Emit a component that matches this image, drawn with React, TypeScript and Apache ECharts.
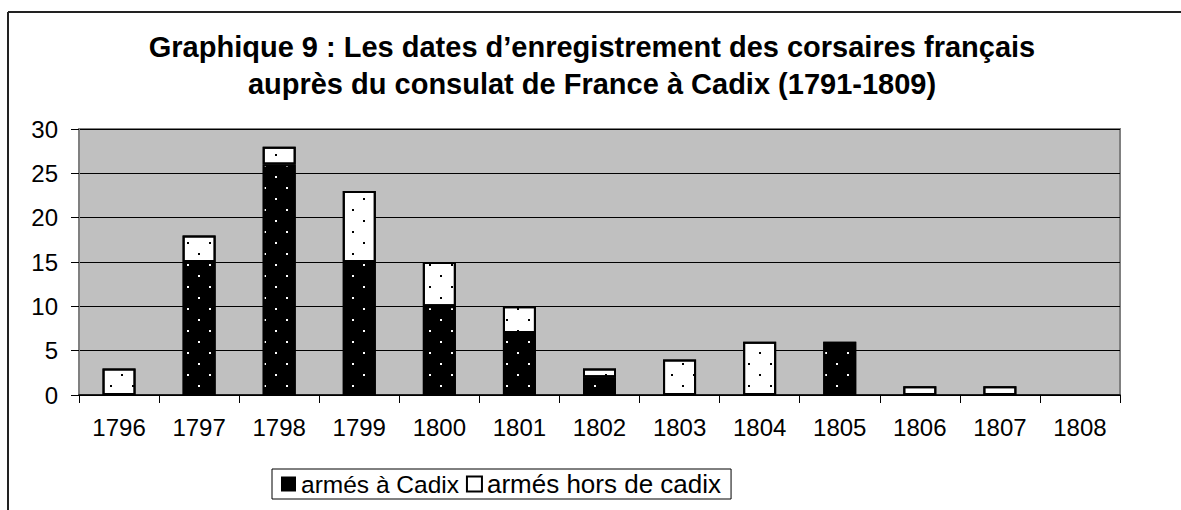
import React, { useEffect, useRef } from "react";
import * as echarts from "echarts";

const TITLE_LINE_1 = "Graphique 9 : Les dates d’enregistrement des corsaires français";
const TITLE_LINE_2 = "auprès du consulat de France à Cadix (1791-1809)";

const years = ["1796", "1797", "1798", "1799", "1800", "1801", "1802", "1803", "1804", "1805", "1806", "1807", "1808"];
const armesCadix = [0, 15, 26, 15, 10, 7, 2, 0, 0, 6, 0, 0, 0];
const armesHors = [3, 3, 2, 8, 5, 3, 1, 4, 6, 0, 1, 1, 0];
const seriesNames = ["armés à Cadix", "armés hors de cadix"];

const FONT = "'Liberation Sans', Arial, sans-serif";

const dotDecal = (color: string) => ({
  symbol: "rect",
  symbolSize: 1,
  color,
  dashArrayX: [[2, 20], [0, 11, 2, 9]],
  dashArrayY: [2, 9],
  rotation: 0,
});

export default function App() {
  const ref = useRef<HTMLDivElement>(null);
  useEffect(() => {
    if (!ref.current) return;
    const chart = echarts.init(ref.current, null, { renderer: "svg" });
    const nz = (v: number) => (v === 0 ? "-" : v);
    chart.setOption({
      animation: false,
      backgroundColor: "#fff",
      title: {
        text: TITLE_LINE_1 + "\n" + TITLE_LINE_2,
        left: 592,
        top: 28,
        textAlign: "center",
        padding: 0,
        textStyle: { fontFamily: FONT, fontSize: 29, fontWeight: "bold", color: "#000", lineHeight: 37 },
      },
      graphic: [
        { type: "line", shape: { x1: 8, y1: 12, x2: 1181, y2: 12 }, style: { stroke: "#222", lineWidth: 2 } },
        { type: "line", shape: { x1: 8, y1: 12, x2: 8, y2: 510 }, style: { stroke: "#222", lineWidth: 2 } },
      ],
      legend: {
        left: 272,
        top: 469,
        orient: "horizontal",
        padding: [2, 10, 2, 9],
        itemGap: 7,
        itemWidth: 15,
        itemHeight: 15,
        borderColor: "#000",
        borderWidth: 1,
        textStyle: { fontFamily: FONT, fontSize: 25, color: "#000", lineHeight: 26 },
        data: [
          {
            name: seriesNames[0],
            icon: "rect",
            itemStyle: { color: "#000", borderWidth: 0, decal: "none" },
            textStyle: { fontSize: 24.5 },
          },
          {
            name: seriesNames[1],
            icon: "rect",
            itemStyle: { color: "#fff", borderColor: "#000", borderWidth: 2, decal: "none" },
            textStyle: { fontSize: 26 },
          },
        ],
      },
      grid: {
        left: 79,
        right: 61,
        top: 129,
        bottom: 115,
        show: true,
        backgroundColor: "#c0c0c0",
        borderColor: "#808080",
        borderWidth: 2,
      },
      xAxis: {
        type: "category",
        data: years,
        axisLine: { lineStyle: { color: "#000", width: 1.5 } },
        axisTick: { show: true, length: 8, lineStyle: { color: "#000" } },
        axisLabel: { fontFamily: FONT, fontSize: 24, color: "#000", margin: 20 },
      },
      yAxis: {
        type: "value",
        min: 0,
        max: 30,
        interval: 5,
        axisLine: { show: true, lineStyle: { color: "#808080", width: 2 } },
        axisTick: { show: true, length: 8, lineStyle: { color: "#000" } },
        axisLabel: { fontFamily: FONT, fontSize: 24, color: "#000", margin: 21 },
        splitLine: { show: true, lineStyle: { color: "#000", width: 1 } },
      },
      series: [
        {
          name: seriesNames[0],
          type: "bar",
          stack: "total",
          barWidth: 33,
          data: armesCadix.map(nz),
          itemStyle: { color: "#000", borderColor: "#000", borderWidth: 2, decal: dotDecal("#fff") },
        },
        {
          name: seriesNames[1],
          type: "bar",
          stack: "total",
          barWidth: 33,
          data: armesHors.map(nz),
          itemStyle: { color: "#fff", borderColor: "#000", borderWidth: 2, decal: dotDecal("#000") },
        },
      ],
    });
    return () => chart.dispose();
  }, []);
  return <div ref={ref} style={{ position: "fixed", left: 0, top: 0, width: 1181, height: 510 }} />;
}
